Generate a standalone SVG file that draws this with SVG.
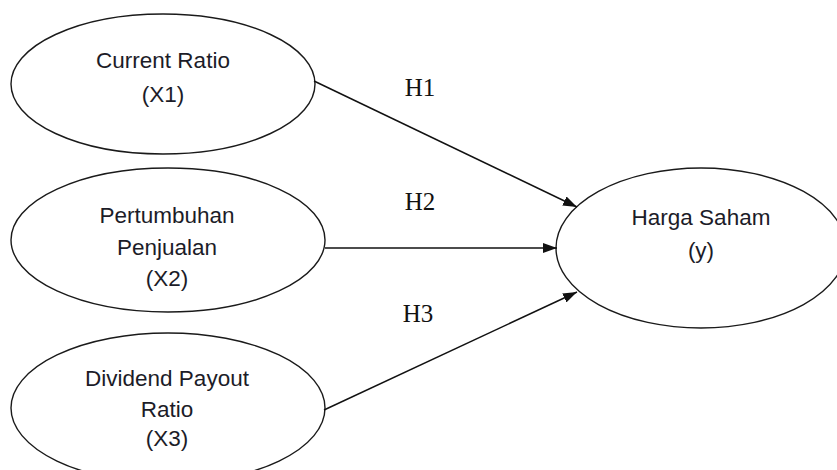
<svg xmlns="http://www.w3.org/2000/svg" width="837" height="470" viewBox="0 0 837 470">
<defs>
<style>
.node{fill:#fff;stroke:#1a1a1a;stroke-width:1.4}
.lbl{font-family:"Liberation Sans",Arial,sans-serif;font-size:22.5px;fill:#1c1c28;text-anchor:middle}
.h{font-family:"Liberation Serif","Times New Roman",serif;font-size:25px;fill:#111;text-anchor:middle}
.edge{stroke:#111;stroke-width:1.5;fill:none;marker-end:url(#arr)}
</style>
<marker id="arr" viewBox="0 0 14 10" refX="14" refY="5" markerWidth="14" markerHeight="10" markerUnits="userSpaceOnUse" orient="auto">
<path d="M0,0 L14,5 L0,10 Z" fill="#111"/>
</marker>
</defs>
<rect width="837" height="470" fill="#fff"/>
<g id="x1">
<ellipse class="node" cx="163" cy="84" rx="152" ry="70"/>
<text class="lbl" x="163" y="68">Current Ratio</text>
<text class="lbl" x="163" y="102">(X1)</text>
</g>
<g id="x2">
<ellipse class="node" cx="168" cy="240" rx="157" ry="72"/>
<text class="lbl" x="167" y="223">Pertumbuhan</text>
<text class="lbl" x="167" y="255">Penjualan</text>
<text class="lbl" x="167" y="286">(X2)</text>
</g>
<g id="x3">
<ellipse class="node" cx="168" cy="408" rx="157" ry="75"/>
<text class="lbl" x="167" y="386">Dividend Payout</text>
<text class="lbl" x="167" y="417">Ratio</text>
<text class="lbl" x="167" y="446">(X3)</text>
</g>
<g id="y">
<ellipse class="node" cx="701" cy="248" rx="145" ry="80"/>
<text class="lbl" x="701" y="225">Harga Saham</text>
<text class="lbl" x="701" y="258">(y)</text>
</g>
<g id="connectors">
<line class="edge" x1="314" y1="81" x2="577" y2="207"/>
<line class="edge" x1="325" y1="248" x2="557" y2="248"/>
<line class="edge" x1="324" y1="410" x2="577" y2="292"/>
<text class="h" x="420" y="96">H1</text>
<text class="h" x="420" y="210">H2</text>
<text class="h" x="418" y="322">H3</text>
</g>
</svg>
